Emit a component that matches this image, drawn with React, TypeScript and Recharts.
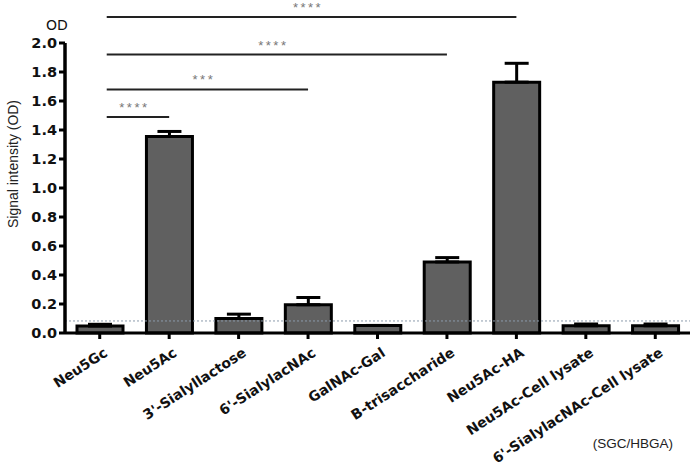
import React from 'react';
import { BarChart, Bar, XAxis, YAxis, ErrorBar, ReferenceLine, Label } from 'recharts';

const categories = ['Neu5Gc', 'Neu5Ac', "3'-Sialyllactose", "6'-SialylacNAc", 'GalNAc-Gal', 'B-trisaccharide', 'Neu5Ac-HA', 'Neu5Ac-Cell lysate', "6'-SialylacNAc-Cell lysate"];
const signal = [0.048, 1.355, 0.1, 0.195, 0.052, 0.49, 1.73, 0.05, 0.05];
const errorUp = [0.012, 0.035, 0.03, 0.05, 0, 0.03, 0.13, 0.012, 0.012];
const yTicks = [0, 0.2, 0.4, 0.6, 0.8, 1.0, 1.2, 1.4, 1.6, 1.8, 2.0];
const cutoff = 0.083;
const comparisons = [
  { from: 'Neu5Gc', to: 'Neu5Ac', y: 1.49, stars: '****' },
  { from: 'Neu5Gc', to: "6'-SialylacNAc", y: 1.68, stars: '***' },
  { from: 'Neu5Gc', to: 'B-trisaccharide', y: 1.92, stars: '****' },
  { from: 'Neu5Gc', to: 'Neu5Ac-HA', y: 2.18, stars: '****' },
];

const data = categories.map((name, i) => ({ name, value: signal[i], err: [0, errorUp[i]] }));

const XTick = (props: any) => {
  const { x, y, payload } = props;
  return (
    <g transform={`translate(${x + 6},${y + 10})`}>
      <text
        textAnchor="end"
        transform="rotate(-33)"
        fontFamily="DejaVu Sans"
        fontWeight="bold"
        fontSize={14}
        fill="#111"
        dy="0.35em"
      >
        {payload.value}
      </text>
    </g>
  );
};

const YLabel = (props: any) => {
  const vb = props.viewBox;
  const cx = vb.x - 2;
  const cy = vb.y + 121;
  return (
    <g>
      <text
        x={cx}
        y={cy}
        transform={`rotate(-90 ${cx} ${cy})`}
        textAnchor="middle"
        dominantBaseline="central"
        fontFamily="Liberation Sans"
        fontSize={14}
        textLength={128}
        lengthAdjust="spacingAndGlyphs"
        fill="#222"
      >
        Signal intensity (OD)
      </text>
      <text x={vb.x + 42} y={vb.y - 13} textAnchor="middle" fontFamily="DejaVu Sans" fontSize={14} fill="#111">
        OD
      </text>
    </g>
  );
};

const XLabel = (props: any) => {
  const vb = props.viewBox;
  return (
    <text x={vb.x + vb.width - 17} y={vb.y + 115} textAnchor="end" fontFamily="Liberation Sans" fontSize={13.5} fill="#222">
      (SGC/HBGA)
    </text>
  );
};

const BracketLine = (p: any) => (
  <line x1={p.x1 + 7} y1={p.y1} x2={p.x2} y2={p.y2} stroke="#222" strokeWidth={2} />
);

export default function App() {
  return (
    <div style={{ position: 'absolute', left: 0, top: 0, background: '#fff' }}>
      <BarChart width={697} height={465} data={data} margin={{ top: 43, right: 7, bottom: 32, left: 15 }}>
        <XAxis
          dataKey="name"
          interval={0}
          height={100}
          tick={<XTick />}
          tickSize={6}
          tickLine={{ stroke: '#000', strokeWidth: 3 }}
          axisLine={{ stroke: '#000', strokeWidth: 3 }}
        >
          <Label content={<XLabel />} />
        </XAxis>
        <YAxis
          width={50}
          domain={[0, 2]}
          ticks={yTicks}
          tickFormatter={(v: number) => v.toFixed(1)}
          tick={{ fontFamily: 'DejaVu Sans', fontWeight: 'bold', fontSize: 14.5, fill: '#111' }}
          tickSize={6}
          tickMargin={2}
          tickLine={{ stroke: '#000', strokeWidth: 3 }}
          axisLine={{ stroke: '#000', strokeWidth: 3.5 }}
        >
          <Label content={<YLabel />} />
        </YAxis>
        <Bar dataKey="value" fill="#606060" stroke="#000" strokeWidth={3} barSize={46} isAnimationActive={false}>
          <ErrorBar dataKey="err" width={12} stroke="#000" strokeWidth={3} direction="y" />
        </Bar>
        <ReferenceLine y={cutoff} stroke="#8c9aab" strokeWidth={1} strokeDasharray="2 2" />
        {comparisons.map((c, i) => (
          <ReferenceLine
            key={i}
            segment={[{ x: c.from, y: c.y }, { x: c.to, y: c.y }]}
            stroke="#222"
            strokeWidth={2}
            ifOverflow="visible"
            shape={BracketLine}
            label={{ value: c.stars, position: 'top', fill: '#777', fontSize: 13, fontFamily: 'Liberation Sans', letterSpacing: 2.5, offset: 5 }}
          />
        ))}
      </BarChart>
    </div>
  );
}
